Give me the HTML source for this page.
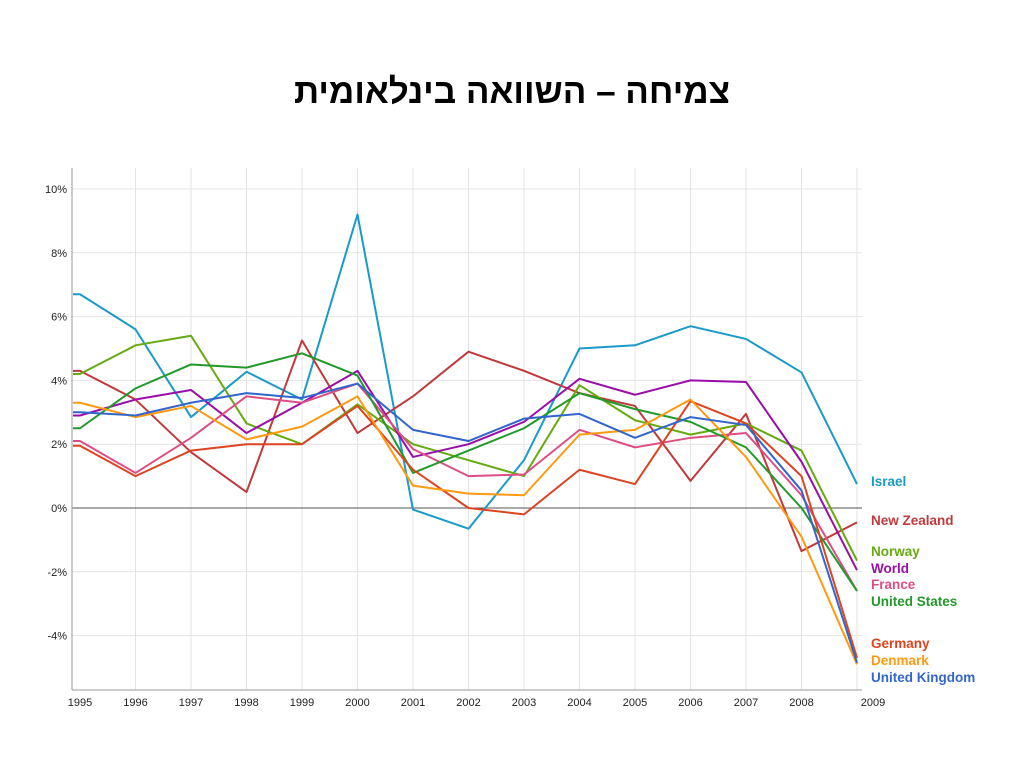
<!DOCTYPE html>
<html><head><meta charset="utf-8"><style>
body{margin:0;background:#fff;width:1024px;height:768px;overflow:hidden;font-family:"Liberation Sans",sans-serif}
#title{position:absolute;left:0;width:1024px;top:72px;text-align:center;font-size:35px;font-weight:bold;font-family:"Liberation Sans","DejaVu Sans",sans-serif;color:#000}
svg{position:absolute;left:0;top:0}
</style></head><body>
<div id="title" dir="rtl">צמיחה – השוואה בינלאומית</div>
<svg id="chart" width="1024" height="768"></svg>
<script>
const years=[1995,1996,1997,1998,1999,2000,2001,2002,2003,2004,2005,2006,2007,2008,2009];
const yTicks=[-4,-2,0,2,4,6,8,10];
const seriesNames=["Israel","New Zealand","Norway","World","France","United States","Germany","Denmark","United Kingdom"];
const israel=[6.7,5.6,2.85,4.27,3.4,9.2,-0.05,-0.65,1.5,5.0,5.1,5.7,5.3,4.25,0.75];
const newZealand=[4.3,3.4,1.75,0.5,5.25,2.35,3.5,4.9,4.3,3.6,3.2,0.85,2.95,-1.35,-0.45];
const norway=[4.2,5.1,5.4,2.65,2.0,3.25,2.0,1.5,1.0,3.85,2.75,2.3,2.65,1.8,-1.65];
const world=[2.9,3.4,3.7,2.35,3.3,4.3,1.6,2.0,2.7,4.05,3.55,4.0,3.95,1.45,-1.95];
const france=[2.1,1.1,2.2,3.5,3.3,3.9,1.85,1.0,1.05,2.45,1.9,2.2,2.35,0.4,-2.6];
const unitedStates=[2.5,3.75,4.5,4.4,4.85,4.15,1.1,1.8,2.5,3.6,3.1,2.7,1.9,0.0,-2.6];
const germany=[1.95,1.0,1.8,2.0,2.0,3.2,1.2,0.0,-0.2,1.2,0.75,3.35,2.65,1.0,-4.7];
const denmark=[3.3,2.85,3.2,2.15,2.55,3.5,0.7,0.45,0.4,2.3,2.45,3.4,1.6,-0.9,-4.9];
const unitedKingdom=[3.0,2.9,3.3,3.6,3.45,3.9,2.45,2.1,2.8,2.95,2.2,2.85,2.6,0.55,-4.85];
const seriesData=[israel,newZealand,norway,world,france,unitedStates,germany,denmark,unitedKingdom];
const colors=["#1a9ac8","#c0393b","#66aa11","#990fa8","#dd4e85","#22992a","#dd4422","#ff9910","#3366cc"];
const legendY=[481,520,551,568,584,601,643,660,677];

const NS="http://www.w3.org/2000/svg";
const svg=document.getElementById('chart');
const X=y=>80+(y-1995)*(857-80)/14;
const Y=v=>508-v*31.9;
function mk(t,a){const e=document.createElementNS(NS,t);for(const k in a)e.setAttribute(k,a[k]);svg.appendChild(e);return e;}
// gridlines
years.forEach((yr,i)=>{if(i>0){const g=mk('line',{x1:X(yr),x2:X(yr),y1:168,y2:690,stroke:'#e4e4e4'});

}
const t=mk('text',{x:yr===2009?X(yr)+16:X(yr),y:706,'font-size':11,'text-anchor':'middle',fill:'#222'});t.textContent=yr;

});
yTicks.forEach(v=>{if(v!==0){const g=mk('line',{x1:72,x2:862,y1:Y(v),y2:Y(v),stroke:'#e4e4e4'});

}
const t=mk('text',{x:67,y:Y(v)+4,'font-size':11,'text-anchor':'end',fill:'#222'});t.textContent=v+'%';

});
const z=mk('line',{x1:72,x2:862,y1:Y(0),y2:Y(0),stroke:'#555'});


const ax=mk('line',{x1:72,x2:72,y1:168,y2:690,stroke:'#999'});


const bx=mk('line',{x1:72,x2:862,y1:690,y2:690,stroke:'#999'});


seriesData.forEach((d,i)=>{
 const pts=d.map((v,j)=>X(years[j])+','+Y(v));
 pts.unshift('73,'+Y(d[0]));
 const p=mk('polyline',{points:pts.join(' '),fill:'none',stroke:colors[i],'stroke-width':2,'stroke-linejoin':'round'});
 
 
 const t=mk('text',{x:871,y:legendY[i]+5,'font-size':13.5,'font-weight':'bold',fill:colors[i]});t.textContent=seriesNames[i];
 
 
});
</script>
</body></html>
